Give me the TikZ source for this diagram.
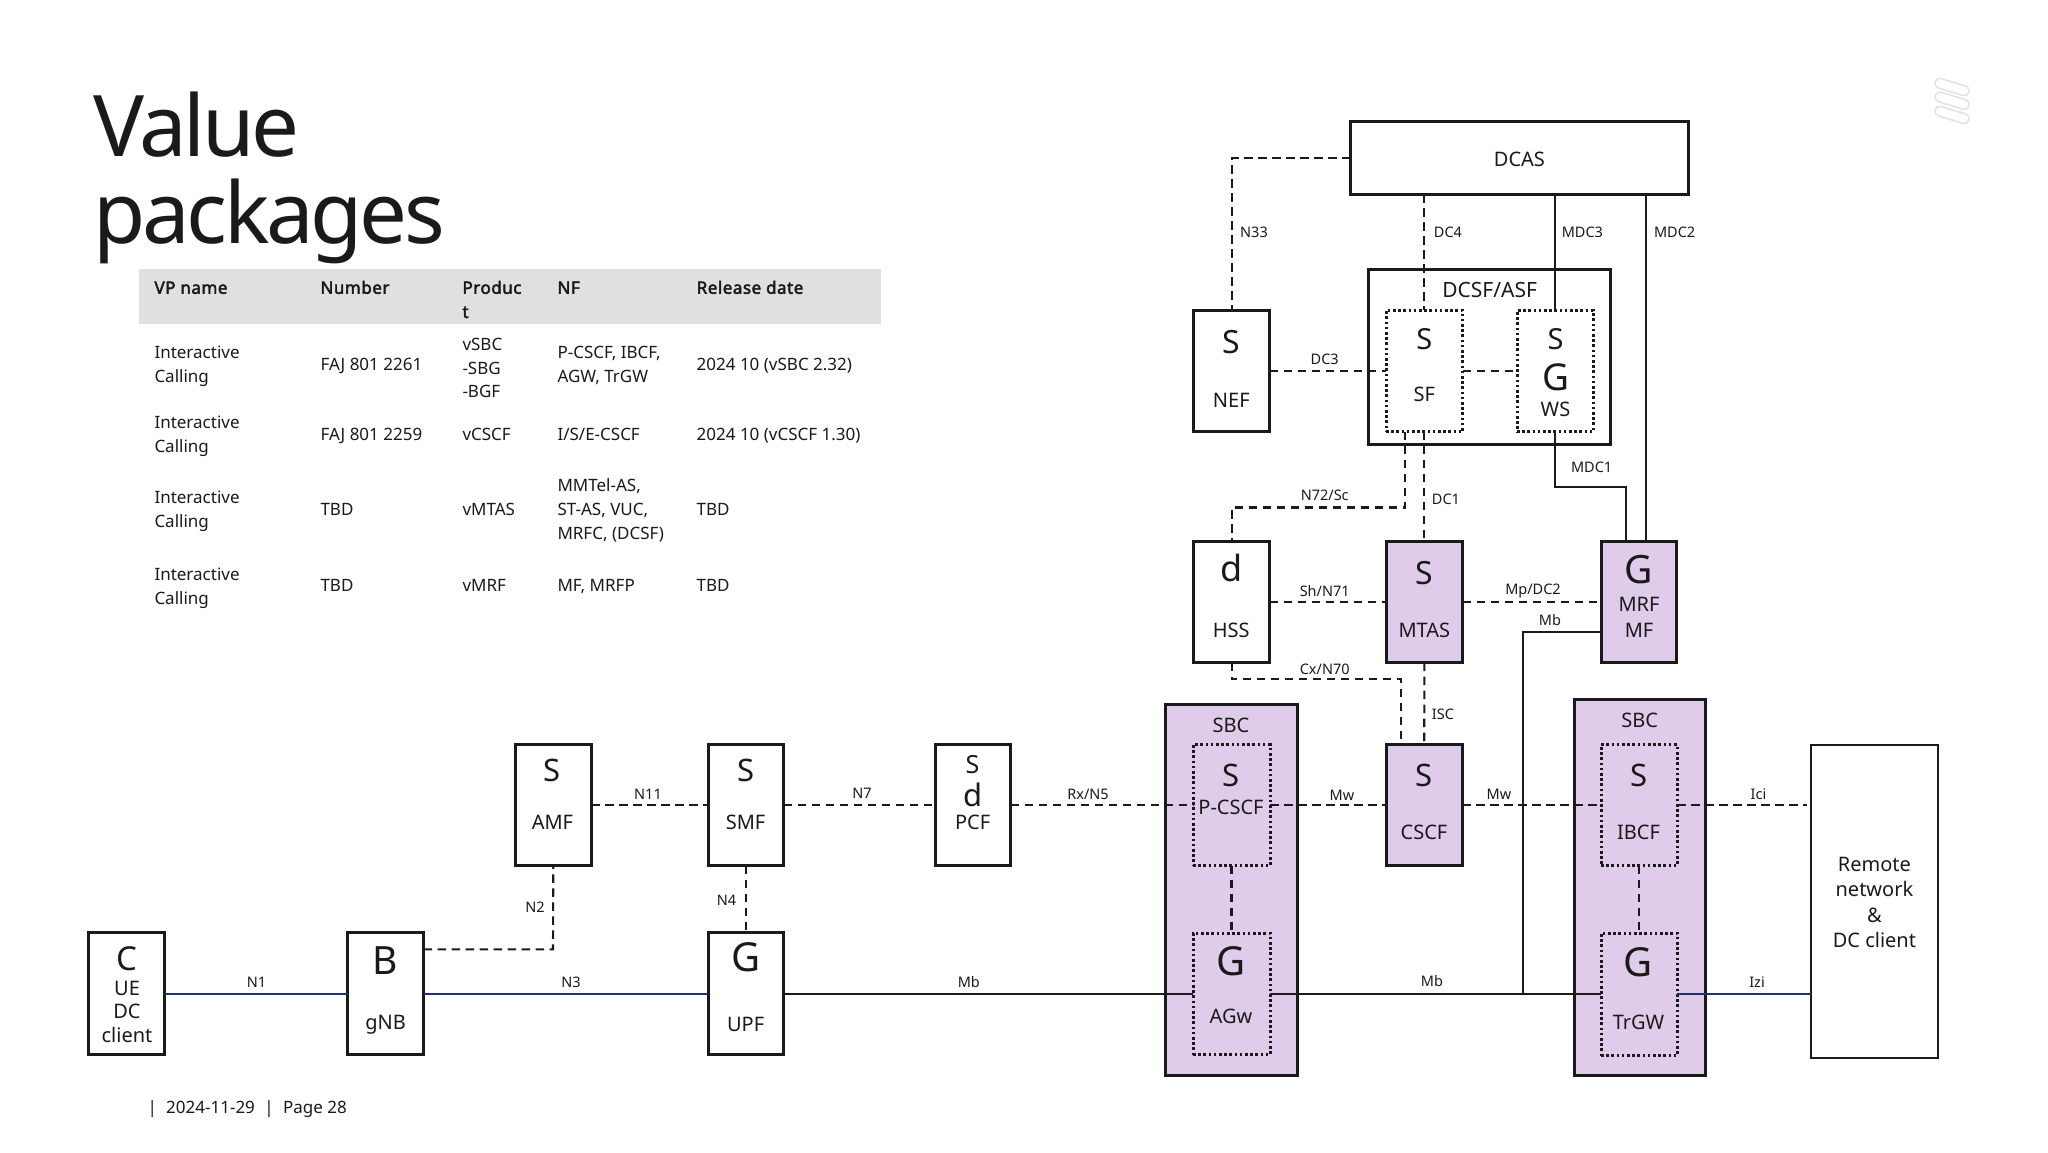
\documentclass[tikz,border=0pt]{standalone}
\usepackage{fontspec}
\usetikzlibrary{calc}
\setmainfont{Noto Sans}
\newfontfamily\titlefont[LetterSpace=-3.8]{Noto Sans}
\newfontfamily\hdrfont[FakeBold=2.6,LetterSpace=3]{Noto Sans}
\definecolor{ink}{HTML}{1A1A1A}
\definecolor{vp}{HTML}{DFCCEA}
\definecolor{hdr}{HTML}{E0E0E0}
\definecolor{navy}{HTML}{1C3370}
\definecolor{logo}{HTML}{E2E2E2}
\tikzset{
 every node/.style={inner sep=0pt,outer sep=0pt,text=ink},
 plainbox/.style={draw=ink,line width=3pt,fill=white,rectangle},
 vpbox/.style={draw=ink,line width=3pt,fill=vp,rectangle},
 dotbox/.style={draw=ink,line width=3pt,dash pattern=on 2.6pt off 2.6pt,rectangle},
 thinbox/.style={draw=ink,line width=2pt,fill=white,rectangle},
 dashline/.style={draw=ink,line width=2.1pt,dash pattern=on 8.5pt off 5.5pt},
 solidline/.style={draw=ink,line width=2pt},
 blueline/.style={draw=navy,line width=2pt},
 logobar/.style={draw=logo,line width=1.5pt,rounded corners=4.5pt},
}
% \tl{name}{x}{y of cap centre}{size}{text}
\newcommand{\tl}[5]{%
 \pgfmathsetmacro{\tly}{#3+0.357*#4}%
 \pgfmathsetmacro{\tlz}{#4*1.2}%
 \node[anchor=base] (#1) at (#2,\tly) {\fontsize{#4pt}{\tlz pt}\selectfont #5};}
% left aligned
\newcommand{\tll}[5]{%
 \pgfmathsetmacro{\tly}{#3+0.357*#4}%
 \pgfmathsetmacro{\tlz}{#4*1.2}%
 \node[anchor=base west] (#1) at (#2,\tly) {\fontsize{#4pt}{\tlz pt}\selectfont #5};}
% box from corners
\newcommand{\bx}[6]{%
 \pgfmathsetmacro{\bw}{#5-#3}\pgfmathsetmacro{\bh}{#6-#4}%
 \pgfmathsetmacro{\bcx}{(#5+#3)/2}\pgfmathsetmacro{\bcy}{(#6+#4)/2}%
 \node[#1,minimum width=\bw pt,minimum height=\bh pt] (#2) at (\bcx,\bcy) {};}
\begin{document}
\begin{tikzpicture}[x=1pt,y=-1pt]
\useasboundingbox (0,0) rectangle (2048,1152);
\fill[white] (0,0) rectangle (2048,1152);
% title
\node[anchor=base west] (t1) at (93,156.8) {\titlefont\fontsize{85pt}{90pt}\selectfont Value};
\node[anchor=base west] (t2) at (93,243) {\titlefont\fontsize{85pt}{90pt}\selectfont packages};
% logo
\foreach \yy in {87,100.7,115}{
 \draw[logobar,rotate around={-17:(1952,\yy)}] (1934.5,\yy-4.9) rectangle (1969.5,\yy+4.9);
}
% table
\fill[hdr] (139.4,268.6) rectangle (880.8,324);
\def\cA{154.5}\def\cB{320.5}\def\cC{462.5}\def\cD{557.5}\def\cE{696.7}
\tll{h1}{\cA}{287.7}{17}{\hdrfont VP name}
\tll{h2}{\cB}{287.7}{17}{\hdrfont Number}
\tll{h3}{\cC}{287.7}{17}{\hdrfont Produc}
\tll{h3b}{\cC}{311.8}{17}{\hdrfont t}
\tll{h4}{\cD}{287.7}{17}{\hdrfont NF}
\tll{h5}{\cE}{287.7}{17}{\hdrfont Release date}
\tll{a1}{\cA}{352.8}{17}{Interactive}
\tll{a2}{\cA}{376.5}{17}{Calling}
\tll{a3}{\cB}{364}{17}{FAJ 801 2261}
\tll{a4}{\cC}{344}{17}{vSBC}
\tll{a5}{\cC}{368}{17}{-SBG}
\tll{a6}{\cC}{391.4}{17}{-BGF}
\tll{a7}{\cD}{352.8}{17}{P-CSCF, IBCF,}
\tll{a8}{\cD}{376.5}{17}{AGW, TrGW}
\tll{a9}{\cE}{364}{17}{2024 10 (vSBC 2.32)}
\tll{b1}{\cA}{422.8}{17}{Interactive}
\tll{b2}{\cA}{446.5}{17}{Calling}
\tll{b3}{\cB}{434}{17}{FAJ 801 2259}
\tll{b4}{\cC}{434}{17}{vCSCF}
\tll{b5}{\cD}{434}{17}{I/S/E-CSCF}
\tll{b6}{\cE}{434}{17}{2024 10 (vCSCF 1.30)}
\tll{c1}{\cA}{497.4}{17}{Interactive}
\tll{c2}{\cA}{521}{17}{Calling}
\tll{c3}{\cB}{509}{17}{TBD}
\tll{c4}{\cC}{509}{17}{vMTAS}
\tll{c5}{\cD}{485.6}{17}{MMTel-AS,}
\tll{c6}{\cD}{509.3}{17}{ST-AS, VUC,}
\tll{c7}{\cD}{533}{17}{MRFC, (DCSF)}
\tll{c8}{\cE}{509}{17}{TBD}
\tll{d1}{\cA}{574}{17}{Interactive}
\tll{d2}{\cA}{598}{17}{Calling}
\tll{d3}{\cB}{585}{17}{TBD}
\tll{d4}{\cC}{585}{17}{vMRF}
\tll{d5}{\cD}{585}{17}{MF, MRFP}
\tll{d6}{\cE}{585}{17}{TBD}
\tll{foot}{147.5}{1107.7}{17}{|\hspace{0.55em}2024-11-29\hspace{0.55em}|\hspace{0.55em}Page 28}
% boxes
\bx{plainbox}{dcas}{1350.5}{121.8}{1688}{194}
\bx{plainbox}{nef}{1193.5}{310.4}{1269.7}{431.8}
\bx{plainbox}{dcsf}{1368}{269.5}{1610.5}{444.4}
\bx{dotbox}{sf}{1386}{310.4}{1462.7}{431.8}
\bx{dotbox}{ws}{1517}{310.4}{1593.3}{431.8}
\bx{plainbox}{hss}{1193.5}{541.2}{1269.7}{662.5}
\bx{vpbox}{mtas}{1386}{541.2}{1462.7}{662.5}
\bx{vpbox}{mrf}{1601.3}{541.2}{1676.5}{662.5}
\bx{vpbox}{sbcl}{1165}{704.5}{1297}{1075.2}
\bx{dotbox}{pcscf}{1193}{744.5}{1270}{865.7}
\bx{dotbox}{agw}{1193}{933}{1270}{1054.7}
\bx{vpbox}{cscf}{1386.5}{744.5}{1462}{865.7}
\bx{vpbox}{sbcr}{1574}{699.8}{1705.5}{1075.2}
\bx{dotbox}{ibcf}{1601}{744.5}{1677}{865.7}
\bx{dotbox}{trgw}{1601}{933}{1677}{1055.7}
\bx{thinbox}{remote}{1811}{744.8}{1938}{1057.7}
\bx{plainbox}{ue}{88.7}{932.8}{164.8}{1054.3}
\bx{plainbox}{gnb}{347.6}{932.8}{423.5}{1054.3}
\bx{plainbox}{amf}{515.4}{744.3}{591.2}{865.7}
\bx{plainbox}{smf}{708}{744.3}{783.9}{865.7}
\bx{plainbox}{pcf}{935}{744.3}{1010.9}{865.7}
\bx{plainbox}{upf}{708}{932.8}{783.9}{1054.3}
% helper coordinates
\coordinate (bus) at (0,993.5);
\coordinate (n2c) at (553,949.3);
\coordinate (n72c) at (1405.4,507.5);
\coordinate (cxc) at (1401.4,679.4);
\coordinate (mdcc) at (1626,486.9);
\coordinate (mbc) at (1522.5,631.5);
\coordinate (mdc2x) at (1646,0);
% connectors
\draw[dashline] (dcas.west) -| (nef.north);
\draw[dashline] (sf.north |- dcas.south) -- (sf.north);
\draw[solidline] (ws.north |- dcas.south) -- (ws.north);
\draw[solidline] (mdc2x |- dcas.south) -- (mdc2x |- mrf.north);
\draw[dashline] (nef.east) -- (sf.west);
\draw[dashline] (sf.east) -- (ws.west);
\draw[solidline] (ws.south) -- (ws.south |- mdcc) -- (mdcc) -- (mdcc |- mrf.north);
\draw[dashline] (sf.south -| n72c) -- (n72c) -| (hss.north);
\draw[dashline] (sf.south) -- (mtas.north);
\draw[dashline] (hss.east) -- (mtas.west);
\draw[dashline] (mtas.east) -- (mrf.west);
\draw[dashline] (hss.south) |- (cxc) -- (cxc |- cscf.north);
\draw[dashline] (mtas.south) -- (cscf.north);
\draw[solidline] (mrf.west |- mbc) -- (mbc) -- (mbc |- bus);
\draw[dashline] (amf.east) -- (smf.west);
\draw[dashline] (smf.east) -- (pcf.west);
\draw[dashline] (pcf.east) -- (pcscf.west |- pcf.east);
\draw[dashline] (pcscf.east |- pcf.east) -- (cscf.west |- pcf.east);
\draw[dashline] (cscf.east |- pcf.east) -- (ibcf.west |- pcf.east);
\draw[dashline] (ibcf.east |- pcf.east) -- ($(remote.west |- pcf.east)+(-4,0)$);
\draw[dashline] (pcscf.south) -- (agw.north);
\draw[dashline] (ibcf.south) -- (trgw.north);
\draw[dashline] (gnb.east |- n2c) -- (n2c) -- (amf.south);
\draw[dashline] (smf.south) -- (upf.north);
\draw[blueline] (ue.east |- bus) -- (gnb.west |- bus);
\draw[blueline] (gnb.east |- bus) -- (upf.west |- bus);
\draw[solidline] (upf.east |- bus) -- (agw.west |- bus);
\draw[solidline] (agw.east |- bus) -- (trgw.west |- bus);
\draw[blueline] (trgw.east |- bus) -- (remote.west |- bus);
% box texts
\tl{x1}{1519.4}{159.7}{20}{DCAS}
\tl{x2}{1489.6}{289.8}{21}{DCSF/ASF}
\tl{x3}{1231.3}{341.8}{32}{S}
\tl{x4}{1231.3}{400}{20}{NEF}
\tl{x5}{1424.3}{338.8}{29}{S}
\tl{x6}{1424.3}{394.6}{20}{SF}
\tl{x7}{1555.5}{338.8}{29}{S}
\tl{x8}{1555.5}{377}{37}{G}
\tl{x9}{1555.5}{409.6}{20}{WS}
\tl{x10}{1231.3}{569}{36}{d}
\tl{x11}{1231.3}{630.4}{20}{HSS}
\tl{x12}{1424.3}{573}{32}{S}
\tl{x13}{1424.3}{630.4}{20}{MTAS}
\tl{x14}{1639}{569.5}{39}{G}
\tl{x15}{1639}{604.7}{20}{MRF}
\tl{x16}{1639}{630.4}{20}{MF}
\tl{x17}{1231}{725}{20}{SBC}
\tl{x18}{1231}{775.7}{31}{S}
\tl{x19}{1231}{807}{20}{P-CSCF}
\tl{x20}{1231}{961.7}{40}{G}
\tl{x21}{1231}{1016}{20}{AGw}
\tl{x22}{1424}{775.7}{31}{S}
\tl{x23}{1424}{832.7}{20}{CSCF}
\tl{x24}{1639.6}{720.7}{20}{SBC}
\tl{x25}{1638.5}{775.7}{31}{S}
\tl{x26}{1638.5}{832.7}{20}{IBCF}
\tl{x27}{1638.5}{962.7}{40}{G}
\tl{x28}{1638.5}{1022.3}{20}{TrGW}
\tl{x29}{1874.4}{864}{20}{Remote}
\tl{x30}{1874.4}{889}{20}{network}
\tl{x31}{1874.4}{915}{20}{\&}
\tl{x32}{1874.4}{940.7}{20}{DC client}
\tl{x33}{127}{959}{33}{C}
\tl{x34}{127}{988}{20}{UE}
\tl{x35}{127}{1011.7}{20}{DC}
\tl{x36}{127}{1035}{20}{client}
\tl{x37}{385.5}{961}{39}{B}
\tl{x38}{385.5}{1022.7}{20}{gNB}
\tl{x39}{552.4}{770.7}{31}{S}
\tl{x40}{552.4}{822.7}{20}{AMF}
\tl{x41}{745.6}{770.7}{31}{S}
\tl{x42}{745.6}{822.7}{20}{SMF}
\tl{x43}{972.6}{765}{25}{S}
\tl{x44}{972.6}{795.5}{31}{d}
\tl{x45}{972.6}{822.7}{20}{PCF}
\tl{x46}{745.6}{957}{40}{G}
\tl{x47}{745.6}{1024.3}{20}{UPF}
% connector labels
\tl{l1}{1254}{232.7}{14.5}{N33}
\tl{l2}{1448}{232.7}{14.5}{DC4}
\tl{l3}{1582.4}{232.7}{14.5}{MDC3}
\tl{l4}{1674.6}{232.7}{14.5}{MDC2}
\tl{l5}{1324.7}{359.8}{14.5}{DC3}
\tl{l6}{1591.6}{467.3}{14.5}{MDC1}
\tl{l7}{1324.7}{495.7}{14.5}{N72/Sc}
\tl{l8}{1446}{499.5}{14.5}{DC1}
\tl{l9}{1324.7}{591.3}{14.5}{Sh/N71}
\tl{l10}{1533}{589.8}{14.5}{Mp/DC2}
\tl{l11}{1550}{620.4}{14.5}{Mb}
\tl{l12}{1324.7}{669}{14.5}{Cx/N70}
\tl{l13}{1443}{714}{14.5}{ISC}
\tl{l14}{1342}{795}{14.5}{Mw}
\tl{l15}{1499}{794}{14.5}{Mw}
\tl{l16}{1758.5}{794}{14.5}{Ici}
\tl{l17}{1757}{982.7}{14.5}{Izi}
\tl{l18}{1432}{981}{14.5}{Mb}
\tl{l19}{256.5}{982.7}{14.5}{N1}
\tl{l20}{571}{982.7}{14.5}{N3}
\tl{l21}{968.8}{982.3}{14.5}{Mb}
\tl{l22}{648}{794}{14.5}{N11}
\tl{l23}{862}{793.3}{14.5}{N7}
\tl{l24}{535}{907.7}{14.5}{N2}
\tl{l25}{726.5}{900.7}{14.5}{N4}
\tl{l26}{1088}{794}{14.5}{Rx/N5}
\end{tikzpicture}
\end{document}
